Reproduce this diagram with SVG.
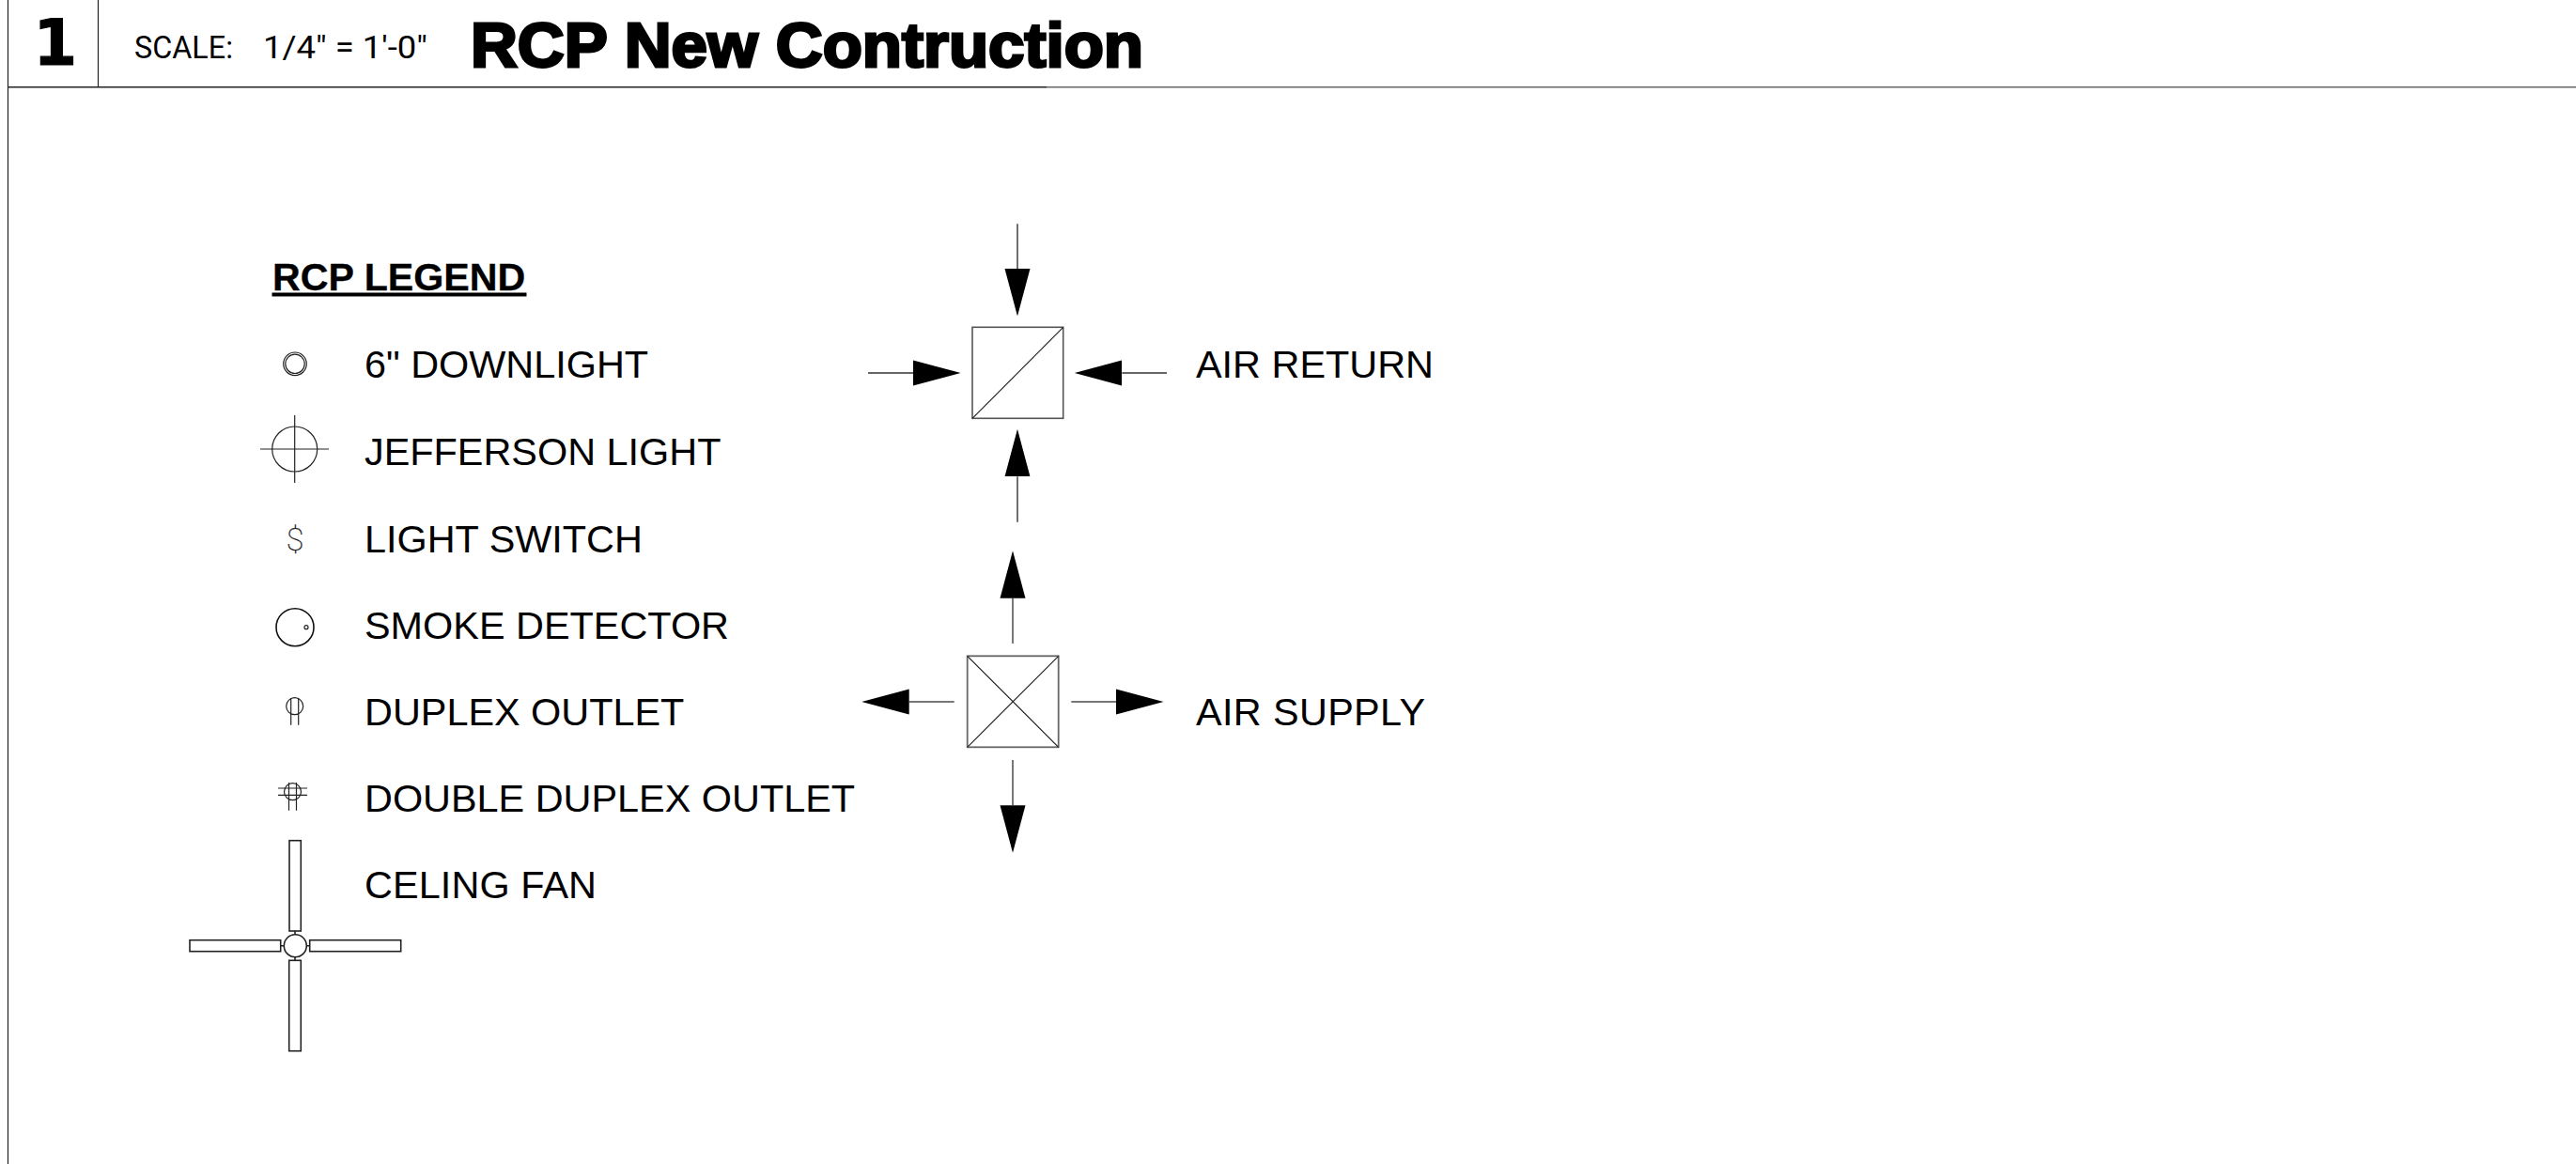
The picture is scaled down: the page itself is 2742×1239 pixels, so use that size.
<svg xmlns="http://www.w3.org/2000/svg" width="2742" height="1239" viewBox="0 0 2742 1239">
<style>
.l{font-family:"Liberation Sans",Arial,sans-serif;font-size:41.4px;fill:#000}
.s{fill:none;stroke:#222;stroke-width:1.2}
.b{fill:#fff;stroke:#222;stroke-width:1.6}
.c{fill:none;stroke:#333;stroke-width:1.4}
.g{stroke:#777;stroke-width:2}
.t{font-family:Roboto,"Liberation Sans",sans-serif;font-weight:400;font-size:33px}
</style>
<defs>
<marker id="ah" markerUnits="userSpaceOnUse" markerWidth="52" markerHeight="28" refX="0" refY="14" orient="auto"><path d="M0 .5L50.500 14L0 27.500Z" fill="#000"/></marker>
</defs>
<rect width="2742" height="1239" fill="#fff"/>
<g id="header">
<path class="s" d="M8.500 0V1239M104.500 0V92"/>
<path d="M8 92.700H1114" stroke="#222" stroke-width="1.600" fill="none"/>
<path d="M1114 92.700H2742" stroke="#666" stroke-width="1.600" fill="none"/>
<text x="35.500" y="68.500" style="font-family:'DejaVu Sans',sans-serif;font-weight:700;font-size:67px;stroke:#000;stroke-width:1.2">1</text>
<text class="t" x="143" y="62" textLength="105" lengthAdjust="spacingAndGlyphs">SCALE:</text>
<text class="t" x="280" y="62" textLength="175" lengthAdjust="spacingAndGlyphs">1/4" = 1'-0"</text>
<text x="501" y="71" textLength="716" lengthAdjust="spacingAndGlyphs" style="font-family:'Liberation Sans',sans-serif;font-weight:700;font-size:66px;stroke:#000;stroke-width:3">RCP New Contruction</text>
</g>
<g id="legend-title"><text x="290" y="309" style="font-family:'Liberation Sans',sans-serif;font-weight:700;font-size:41.2px;stroke:#000;stroke-width:.3">RCP LEGEND</text><rect x="289.500" y="311.500" width="271" height="4"/></g>
<g id="downlight"><circle class="s" cx="314" cy="387.300" r="12.300" stroke-width="1"/><circle class="s" cx="314" cy="387.300" r="10.200" stroke-width="1"/><text class="l" x="388" y="402">6" DOWNLIGHT</text></g>
<g id="jefferson-light"><circle class="s" cx="313.700" cy="478" r="24"/><path class="s" d="M277 478H350M313.700 442V514"/><text class="l" x="388" y="495">JEFFERSON LIGHT</text></g>
<g id="light-switch"><text x="314" y="586" text-anchor="middle" style="font-family:Roboto,'Liberation Sans',sans-serif;font-weight:100;font-size:34px;fill:#111;stroke:#222;stroke-width:.3">$</text><text class="l" x="388" y="588">LIGHT SWITCH</text></g>
<g id="smoke-detector"><circle cx="314" cy="667.700" r="20" fill="none" stroke="#111" stroke-width="1.600"/><circle cx="326" cy="667.700" r="2" class="s"/><text class="l" x="388" y="680" textLength="388">SMOKE DETECTOR</text></g>
<g id="duplex-outlet"><circle class="s" cx="313.700" cy="751.700" r="9"/><path class="s" d="M309.700 743V771.700M317.700 743V771.700"/><text class="l" x="388" y="772">DUPLEX OUTLET</text></g>
<g id="double-duplex-outlet"><circle class="s" cx="311.500" cy="842.700" r="9"/><path class="s" d="M307.500 833V862.700M315.500 833V862.700M296 839H327M296 846.300H327"/><text class="l" x="388" y="864">DOUBLE DUPLEX OUTLET</text></g>
<g id="celing-fan">
<circle class="b" cx="314.300" cy="1006.700" r="12"/>
<rect class="b" x="308" y="894.700" width="12.300" height="96.300"/>
<rect class="b" x="307.700" y="1022.300" width="12.600" height="96.400"/>
<rect class="b" x="202" y="1000.700" width="96.700" height="12"/>
<rect class="b" x="329.700" y="1000.700" width="97" height="12"/>
<path class="b" d="M314 991V994.700M314 1018.700V1022.300M298.700 1006.700H302.300M326.300 1006.700H329.700"/>
<text class="l" x="388" y="956" textLength="247">CELING FAN</text>
</g>
<g id="air-return"><rect x="1035" y="348.300" width="96.700" height="97" fill="#fff" stroke="#555" stroke-width="1.600"/><path class="s" d="M1035 445.300L1131.700 348.300"/><text class="l" x="1273" y="402">AIR RETURN</text></g>
<g id="air-supply"><rect x="1029.700" y="698.300" width="97" height="97" fill="#fff" stroke="#666" stroke-width="1.800"/><path class="s" d="M1029.700 795.300L1126.700 698.300M1029.700 698.300L1126.700 795.300"/><text class="l" x="1273" y="772" textLength="244">AIR SUPPLY</text></g>
<g id="connectors">
<g class="c">
<path marker-end="url(#ah)" d="M1083 238.300V286"/>
<path marker-end="url(#ah)" d="M1083 555.700V507.300"/>
<path marker-end="url(#ah)" d="M924 397H972"/>
<path marker-end="url(#ah)" d="M1242 397H1194.300"/>
</g>
<g class="c g">
<path marker-end="url(#ah)" d="M1078 685V636.700"/>
<path marker-end="url(#ah)" d="M1078 809V857.300"/>
<path marker-end="url(#ah)" d="M1015.700 747H967.700"/>
<path marker-end="url(#ah)" d="M1140.300 747H1188"/>
</g>
</g>
</svg>
